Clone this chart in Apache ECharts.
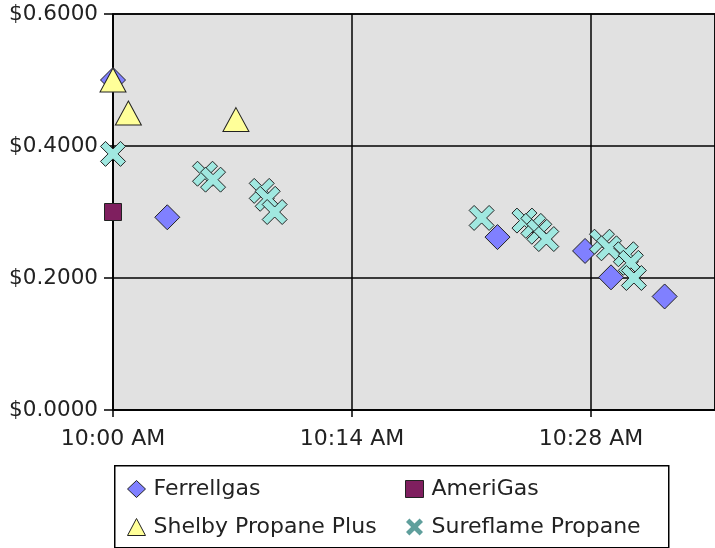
<!DOCTYPE html>
<html>
<head>
<meta charset="utf-8">
<script src="https://cdn.jsdelivr.net/npm/echarts@6/dist/echarts.min.js"></script>
<style>
html,body{margin:0;padding:0;background:#fff;}
#c{width:715px;height:548px;}
</style>
</head>
<body>
<div id="c"></div>
<script>
// Times are minutes after 10:00 AM; prices in dollars
const seriesNames = ['Ferrellgas', 'AmeriGas', 'Shelby Propane Plus', 'Sureflame Propane'];
const ferrellTimes  = [0, 3.18, 22.52, 27.65, 29.17, 32.31];
const ferrellPrices = [0.50, 0.292, 0.262, 0.241, 0.201, 0.172];
const ameriTimes  = [0];
const ameriPrices = [0.30];
const shelbyTimes  = [0, 0.9, 7.2];
const shelbyPrices = [0.50, 0.45, 0.44];
const sureTimes  = [0, 5.39, 5.86, 8.71, 9.06, 9.47, 21.59, 24.1, 24.62, 24.97, 25.38, 28.64, 29.05, 30.04, 30.33, 30.51];
const surePrices = [0.388, 0.358, 0.349, 0.332, 0.320, 0.300, 0.291, 0.287, 0.279, 0.270, 0.259, 0.255, 0.245, 0.236, 0.223, 0.200];
const xTickMinutes = 14;
const yTicks = [0, 0.2, 0.4, 0.6];

function pairs(t, v) { return t.map((x, i) => [x, v[i]]); }
function timeLabel(m) {
  const mm = Math.round(m);
  const h = 10 + Math.floor(mm / 60);
  const mi = mm % 60;
  return h + ':' + (mi < 10 ? '0' : '') + mi + ' AM';
}

const xPath = 'path://M0,2 L2,0 L5,3 L8,0 L10,2 L7,5 L10,8 L8,10 L5,7 L2,10 L0,8 L3,5 Z';
const FONT = 'Verdana, "DejaVu Sans", sans-serif';

const chart = echarts.init(document.getElementById('c'), null, {renderer: 'canvas'});
chart.setOption({
  animation: false,
  backgroundColor: '#ffffff',
  grid: {
    left: 113, top: 14, right: -3, bottom: 138,
    show: true, backgroundColor: '#e1e1e1', borderColor: '#000', borderWidth: 1.5
  },
  xAxis: {
    type: 'value', min: 0, max: 35.26, interval: xTickMinutes,
    axisLine: {show: true, lineStyle: {color: '#000', width: 1.5}},
    axisTick: {show: true, length: 7, lineStyle: {color: '#000', width: 1.5}},
    axisLabel: {
      color: '#222', fontFamily: FONT, fontSize: 22, margin: 18,
      showMaxLabel: false,
      formatter: v => (Math.abs(v % xTickMinutes) < 1e-6 ? timeLabel(v) : '')
    },
    splitLine: {show: true, lineStyle: {color: '#000', width: 1.5}}
  },
  yAxis: {
    type: 'value', min: yTicks[0], max: yTicks[yTicks.length - 1], interval: 0.2,
    axisLine: {show: true, lineStyle: {color: '#000', width: 1.5}},
    axisTick: {show: true, length: 9, lineStyle: {color: '#000', width: 1.5}},
    axisLabel: {
      color: '#222', fontFamily: FONT, fontSize: 21.5, margin: 15,
      formatter: v => '$' + v.toFixed(4)
    },
    splitLine: {show: true, lineStyle: {color: '#000', width: 1.5}}
  },
  legend: [
    {
      orient: 'vertical', left: 122, top: 473, itemGap: 16,
      itemWidth: 18, itemHeight: 17,
      textStyle: {fontFamily: FONT, fontSize: 22, color: '#222', padding: [0, 0, 0, 3]},
      data: [
        {name: seriesNames[0], icon: 'diamond', itemStyle: {color: '#8080ff', borderColor: '#222', borderWidth: 1}},
        {name: seriesNames[2], icon: 'triangle', itemStyle: {color: '#ffff99', borderColor: '#222', borderWidth: 1}}
      ]
    },
    {
      orient: 'vertical', left: 400, top: 473, itemGap: 16,
      itemWidth: 18, itemHeight: 17,
      textStyle: {fontFamily: FONT, fontSize: 22, color: '#222', padding: [0, 0, 0, 3]},
      data: [
        {name: seriesNames[1], icon: 'rect', itemStyle: {color: '#7f1f5f', borderColor: '#222', borderWidth: 1}},
        {name: seriesNames[3], icon: xPath, itemStyle: {color: '#5f9f9c', borderColor: '#5f9f9c', borderWidth: 0}}
      ]
    }
  ],
  graphic: [{
    type: 'rect', left: 114, top: 465, z: -1,
    shape: {width: 554, height: 82},
    style: {fill: '#fff', stroke: '#000', lineWidth: 1.5}
  }],
  series: [
    {
      name: seriesNames[0], type: 'scatter', data: pairs(ferrellTimes, ferrellPrices),
      symbol: 'diamond', symbolSize: [25, 25],
      itemStyle: {color: '#8080ff', borderColor: '#222', borderWidth: 1, opacity: 1},
      emphasis: {disabled: true}
    },
    {
      name: seriesNames[1], type: 'scatter', data: pairs(ameriTimes, ameriPrices),
      symbol: 'rect', symbolSize: [17, 17],
      itemStyle: {color: '#7f1f5f', borderColor: '#222', borderWidth: 1, opacity: 1},
      emphasis: {disabled: true}
    },
    {
      name: seriesNames[2], type: 'scatter', data: pairs(shelbyTimes, shelbyPrices),
      symbol: 'triangle', symbolSize: [26, 24],
      itemStyle: {color: '#ffff99', borderColor: '#222', borderWidth: 1, opacity: 1},
      emphasis: {disabled: true}
    },
    {
      name: seriesNames[3], type: 'scatter', data: pairs(sureTimes, surePrices),
      symbol: xPath, symbolSize: [25, 25],
      itemStyle: {color: '#a0e8e0', borderColor: '#222', borderWidth: 1, opacity: 1},
      emphasis: {disabled: true}
    }
  ]
});
</script>
</body>
</html>
